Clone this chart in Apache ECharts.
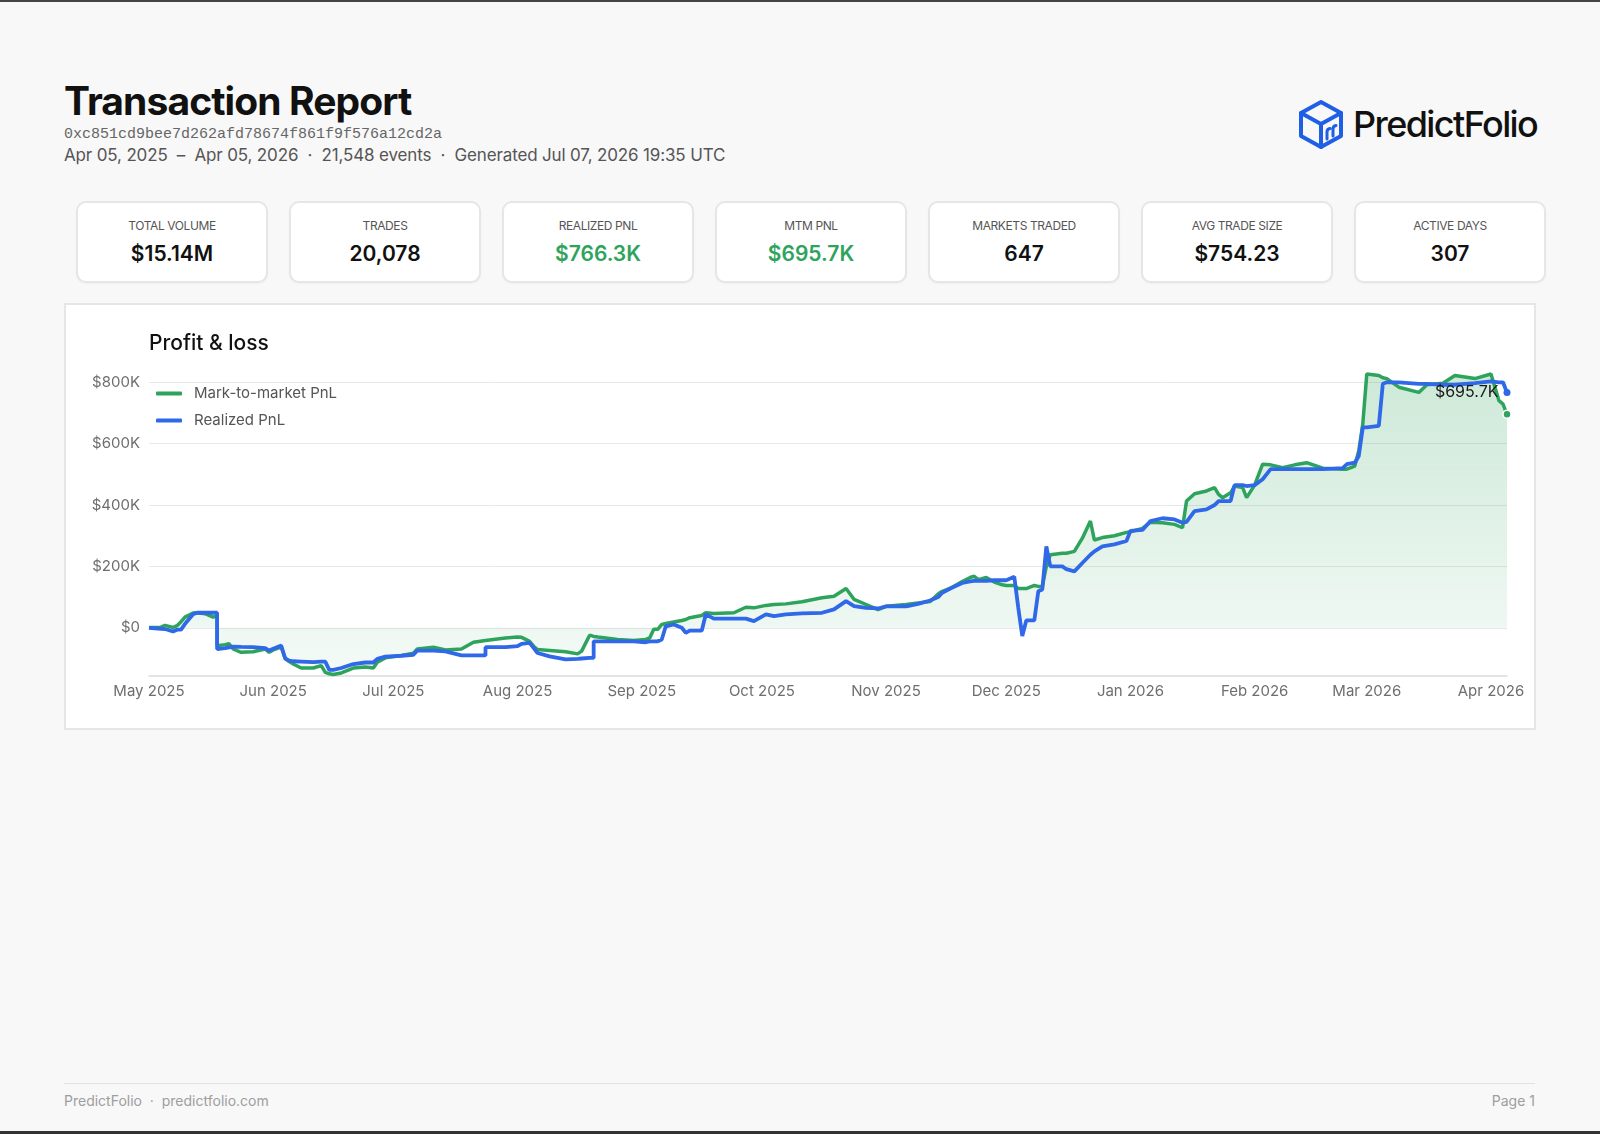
<!DOCTYPE html>
<html>
<head>
<meta charset="utf-8">
<title>Transaction Report</title>
<script src="https://cdn.jsdelivr.net/npm/echarts@6.0.0/dist/echarts.min.js"></script>
<style>
  html, body { margin: 0; padding: 0; }
  body {
    width: 1600px; height: 1134px; position: relative; overflow: hidden;
    background: #f8f8f8; font-family: Inter, 'Noto Sans', sans-serif;
    border-top: 2px solid #444; box-sizing: border-box;
  }
  .bottom-edge { position: absolute; left: 0; right: 0; bottom: 0; height: 3px; background: #333; }
  .title { position: absolute; left: 64px; top: 75px; font-size: 39px; font-weight: 700; color: #111; letter-spacing: -0.9px; }
  .addr { position: absolute; left: 64px; top: 124px; font-family: 'Liberation Mono', 'DejaVu Sans Mono', monospace; font-size: 15px; color: #666; }
  .sub { position: absolute; left: 64px; top: 143px; font-size: 17px; color: #555; letter-spacing: -0.15px; }
  .logo { position: absolute; left: 1298px; top: 97px; width: 46px; height: 51px; }
  .brand { position: absolute; left: 1353px; top: 100px; font-size: 36px; font-weight: 500; color: #111; letter-spacing: -1.6px; }
  .card {
    position: absolute; top: 199px; width: 192px; height: 82px; box-sizing: border-box;
    background: #fff; border: 2px solid #e6e6e6; border-radius: 10px;
    box-shadow: 0 1px 2px rgba(0,0,0,0.04); text-align: center;
  }
  .card .lbl { position: absolute; left: 0; right: 0; top: 15px; font-size: 12px; color: #555; letter-spacing: -0.4px; }
  .card .val { position: absolute; left: 0; right: 0; top: 38px; font-size: 21px; font-weight: 600; color: #111; }
  .panel {
    position: absolute; left: 64px; top: 301px; width: 1472px; height: 427px; box-sizing: border-box;
    background: #fff; border: 2px solid #e6e6e6;
  }
  #chart { position: absolute; left: 0; top: 0; width: 1468px; height: 423px; }
  .foot-line { position: absolute; left: 64px; width: 1471px; top: 1081px; height: 1px; background: #e2e2e2; }
  .foot { position: absolute; top: 1090px; font-size: 14px; color: #9e9e9e; }
</style>
</head>
<body>
<div class="title">Transaction Report</div>
<div class="addr">0xc851cd9bee7d262afd78674f861f9f576a12cd2a</div>
<div class="sub">Apr 05, 2025 &nbsp;–&nbsp; Apr 05, 2026 &nbsp;·&nbsp; 21,548 events &nbsp;·&nbsp; Generated Jul 07, 2026 19:35 UTC</div>

<svg class="logo" viewBox="0 0 46 51" fill="none" stroke="#1f5fe6" stroke-width="4" stroke-linejoin="round" stroke-linecap="round">
  <path d="M23 3 L43 14 L43 37 L23 48 L3 37 L3 14 Z"/>
  <path d="M3 14 L23 25 L43 14 M23 25 L23 48"/>
  <path d="M29 40 L29 33 Q29 30 32 29.5 M35 37 L35 30 Q35 27 38 26.5" stroke-width="3"/>
</svg>
<div class="brand">PredictFolio</div>

<div id="cards"></div>

<div class="panel"><div id="chart"></div></div>

<div class="foot-line"></div>
<div class="foot" style="left:64px">PredictFolio &nbsp;·&nbsp; predictfolio.com</div>
<div class="foot" style="right:65px">Page 1</div>
<div class="bottom-edge"></div>

<script>
// KPI cards
const kpiLabels = ['TOTAL VOLUME', 'TRADES', 'REALIZED PNL', 'MTM PNL', 'MARKETS TRADED', 'AVG TRADE SIZE', 'ACTIVE DAYS'];
const kpiValues = ['$15.14M', '20,078', '$766.3K', '$695.7K', '647', '$754.23', '307'];
const kpiGreen = [false, false, true, true, false, false, false];

// PnL curves (day offset from May 1 2025, values in $K)
const days = [0, 3, 4, 6, 7, 8, 9, 11, 12, 14, 16, 17, 17, 19, 20, 21, 23, 26, 29, 30, 31, 33, 34, 35, 36, 38, 41, 43, 44, 45, 46, 48, 51, 54, 56, 57, 59, 63, 66, 67, 71, 74, 78, 81, 84, 84, 89, 92, 93, 95, 96, 97, 100, 104, 107, 108, 110, 111, 111, 112, 117, 121, 124, 125, 126, 127, 128, 129, 131, 133, 134, 135, 138, 139, 141, 146, 149, 151, 154, 156, 159, 163, 168, 171, 174, 176, 179, 182, 184, 189, 192, 195, 197, 198, 200, 203, 205, 206, 207, 209, 211, 213, 214, 216, 217, 218, 219, 221, 222, 223, 224, 225, 228, 229, 231, 233, 235, 236, 238, 241, 244, 245, 248, 250, 253, 256, 258, 259, 261, 264, 266, 267, 268, 270, 271, 273, 274, 276, 278, 280, 283, 286, 289, 293, 298, 299, 301, 302, 303, 304, 307, 308, 309, 312, 317, 319, 323, 326, 331, 335, 337, 338, 339];
const mtmK = [1, 2, 8, 1, 7, 20, 35, 48, 49, 46, 35, 38, -58, -55, -52, -69, -80, -78, -69, -80, -72, -63, -100, -110, -118, -131, -131, -123, -145, -150, -152, -147, -131, -128, -131, -112, -98, -90, -83, -69, -63, -72, -69, -47, -41, -41, -33, -30, -31, -44, -60, -71, -74, -78, -85, -76, -24, -28, -28, -30, -38, -41, -38, -33, -5, -5, 11, 14, 19, 24, 27, 33, 40, 49, 47, 49, 67, 65, 73, 76, 78, 85, 98, 103, 128, 93, 76, 59, 70, 76, 81, 86, 110, 119, 128, 151, 164, 168, 157, 164, 149, 140, 138, 138, 128, 128, 128, 138, 135, 135, 200, 238, 243, 243, 249, 292, 348, 286, 294, 300, 311, 313, 324, 344, 342, 337, 326, 413, 437, 446, 457, 435, 424, 440, 462, 457, 424, 465, 533, 531, 522, 531, 538, 520, 517, 517, 527, 577, 664, 827, 822, 815, 812, 784, 767, 792, 797, 822, 812, 827, 740, 729, 695.7];
const realizedK = [0, -3, -4, -12, -6, -6, 13, 44, 49, 49, 49, 49, -69, -66, -64, -61, -62, -63, -66, -74, -68, -58, -100, -107, -109, -110, -112, -110, -110, -137, -137, -131, -118, -113, -113, -101, -94, -91, -88, -74, -74, -77, -90, -90, -90, -63, -63, -60, -52, -49, -65, -82, -93, -103, -101, -100, -98, -98, -44, -44, -44, -44, -47, -44, -44, -44, -38, 5, 11, 0, -16, -9, -9, 44, 30, 30, 30, 22, 44, 38, 44, 47, 49, 60, 87, 71, 65, 63, 70, 70, 78, 89, 100, 114, 128, 146, 151, 153, 153, 153, 155, 155, 155, 166, 65, -27, 24, 24, 119, 125, 265, 200, 200, 191, 184, 211, 238, 249, 265, 272, 283, 316, 319, 348, 357, 353, 342, 345, 380, 386, 400, 413, 413, 413, 465, 465, 462, 465, 484, 517, 517, 517, 517, 517, 520, 533, 538, 560, 653, 653, 658, 795, 800, 800, 795, 795, 792, 792, 797, 803, 800, 800, 766.3];
const yTickFormat = (v) => (v === 0 ? '$0' : '$' + v + 'K');

const colors = {
  mtm: '#2ea35c',
  realized: '#2f68e8',
  grid: '#e8e8e8',
  axisText: '#6e6e6e',
};

// cards
const cardsEl = document.getElementById('cards');
kpiLabels.forEach((label, i) => {
  const c = document.createElement('div');
  c.className = 'card';
  c.style.left = (76 + i * 213) + 'px';
  c.innerHTML = '<div class="lbl">' + label + '</div><div class="val" style="color:' +
    (kpiGreen[i] ? '#2ea35c' : '#111') + '">' + kpiValues[i] + '</div>';
  cardsEl.appendChild(c);
});

function toTime(d) {
  return new Date(2025, 4, 1 + d).getTime();
}

const last = days.length - 1;
const mtmData = days.map((d, i) => [toTime(d), mtmK[i]]);
const realizedData = days.map((d, i) => {
  if (i !== last) return [toTime(d), realizedK[i]];
  return {
    value: [toTime(d), realizedK[i]],
    label: {
      show: true,
      position: 'left',
      distance: 5,
      formatter: '$' + mtmK[last].toFixed(1) + 'K',
      color: '#1a1a1a',
      fontSize: 16,
      fontFamily: 'Inter',
    },
  };
});

const myChart = echarts.init(document.getElementById('chart'));
const option = {
  animation: false,
  title: {
    text: 'Profit & loss',
    left: 78,
    top: 23,
    textStyle: { fontSize: 21, fontWeight: 500, color: '#111', fontFamily: 'Inter' },
  },
  legend: {
    orient: 'vertical',
    left: 85,
    top: 76,
    icon: 'roundRect',
    itemWidth: 26,
    itemHeight: 4,
    itemGap: 12,
    itemStyle: { borderWidth: 0 },
    textStyle: { fontSize: 15, color: '#555', fontFamily: 'Inter', padding: [0, 0, 0, 7] },
    data: ['Mark-to-market PnL', 'Realized PnL'],
  },
  grid: { left: 83, right: 27, top: 65, bottom: 52 },
  xAxis: {
    type: 'time',
    min: toTime(0),
    max: toTime(339),
    splitNumber: 11,
    minInterval: 28 * 86400000,
    axisLine: { onZero: false, lineStyle: { color: '#dcdcdc', width: 1.5 } },
    axisTick: { show: false },
    splitLine: { show: false },
    axisLabel: {
      formatter: '{MMM} {yyyy}',
      color: colors.axisText,
      fontSize: 15,
      fontFamily: 'Inter',
      margin: 8,
      hideOverlap: false,
    },
  },
  yAxis: {
    type: 'value',
    min: -157,
    max: 840,
    splitNumber: 5,
    axisLine: { show: false },
    axisTick: { show: false },
    splitLine: { showMinLine: false, showMaxLine: false, lineStyle: { color: colors.grid } },
    axisLabel: {
      formatter: yTickFormat,
      showMinLabel: false,
      showMaxLabel: false,
      color: colors.axisText,
      fontSize: 15,
      fontFamily: 'Inter',
      margin: 9,
    },
  },
  series: [
    {
      name: 'Mark-to-market PnL',
      type: 'line',
      data: mtmData,
      color: colors.mtm,
      showSymbol: true,
      symbol: 'circle',
      symbolSize: (v, p) => (p.dataIndex === last ? 8 : 0),
      itemStyle: { color: colors.mtm, borderColor: '#fff', borderWidth: 1.5 },
      lineStyle: { width: 3.5, color: colors.mtm },
      clip: false,
      z: 2,
      areaStyle: {
        origin: 0,
        color: new echarts.graphic.LinearGradient(0, 0, 0, 1, [
          { offset: 0, color: 'rgba(46,163,92,0.34)' },
          { offset: 1, color: 'rgba(46,163,92,0.07)' },
        ]),
      },
    },
    {
      name: 'Realized PnL',
      type: 'line',
      data: realizedData,
      color: colors.realized,
      showSymbol: true,
      symbol: 'circle',
      symbolSize: (v, p) => (p.dataIndex === last ? 7 : 0),
      itemStyle: { color: colors.realized },
      lineStyle: { width: 3.8, color: colors.realized },
      clip: false,
      z: 3,
    },
  ],
};
myChart.setOption(option);
</script>
</body>
</html>
